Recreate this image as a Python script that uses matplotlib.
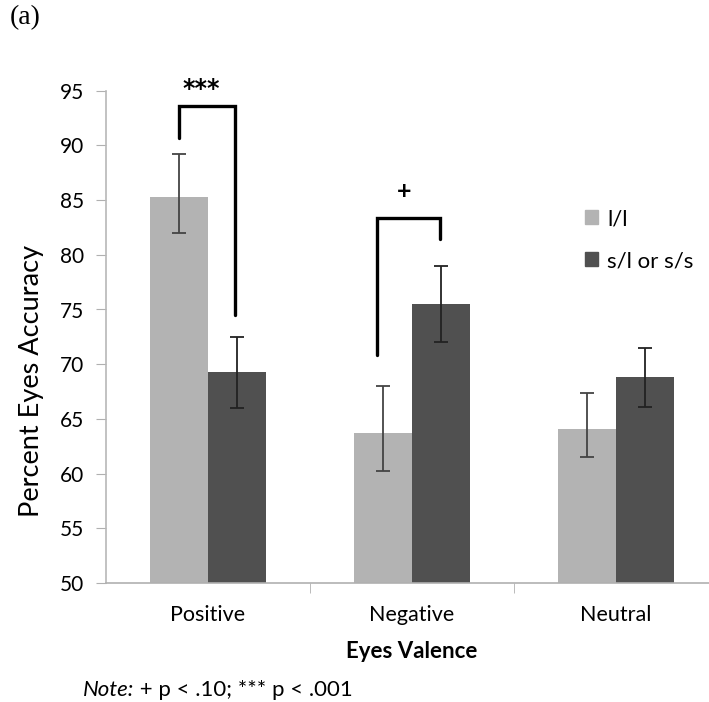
import numpy as np
import matplotlib.pyplot as plt
from matplotlib.patches import Patch

plt.rcParams['font.family'] = ['Lato', 'DejaVu Sans']

# 数据
categories = ['Positive', 'Negative', 'Neutral']
groups = ['l/l', 's/l or s/s']
ll_mean = [85.3, 63.7, 64.1]
ll_err_low = [3.3, 3.5, 2.6]
ll_err_high = [3.9, 4.3, 3.3]
sl_mean = [69.3, 75.5, 68.8]
sl_err_low = [3.3, 3.5, 2.7]
sl_err_high = [3.2, 3.5, 2.7]

# 显著性标记: (左x, 右x, 左端底, 右端底, 顶, 标记)
brackets = [(-0.144, 0.132, 90.7, 74.5, 93.6, '***'),
            (0.83, 1.139, 70.8, 81.4, 83.4, '+')]
yticks = np.arange(50, 96, 5)

W, H = 709, 702
fig = plt.figure(figsize=(W / 100, H / 100), dpi=100)
ax = fig.add_axes([106 / W, 119 / H, 612 / W, 492.3 / H])

x = np.arange(len(categories))
bw = 0.284
c_light = '#b3b3b3'
c_dark = '#505050'
ax.bar(x - bw / 2, ll_mean, bw, color=c_light, zorder=2)
ax.bar(x + bw / 2, sl_mean, bw, color=c_dark, zorder=2)
ax.errorbar(x - bw / 2, ll_mean, yerr=[ll_err_low, ll_err_high], fmt='none',
            ecolor='#444444', elinewidth=1.3, capsize=5, capthick=1.3, zorder=3)
ax.errorbar(x + bw / 2, sl_mean, yerr=[sl_err_low, sl_err_high], fmt='none',
            ecolor='#222222', elinewidth=1.3, capsize=5, capthick=1.3, zorder=3)

# 括号和星号
for x0, x1, b0, b1, top, mark in brackets:
    ax.plot([x0, x0, x1, x1], [b0, top, top, b1], color='black', lw=2.4,
            solid_joinstyle='miter', solid_capstyle='round', clip_on=False, zorder=4)
    if mark == '***':
        ax.text((x0 + x1) / 2 - 0.025, top + 1.6, mark, ha='center', va='center',
                fontsize=17, fontweight='bold', family='DejaVu Sans', clip_on=False)
    else:
        ax.text((x0 + x1) / 2 - 0.025, top + 2.4, mark, ha='center', va='center',
                fontsize=18, fontweight='bold', clip_on=False)

ax.set_xlim(-0.5, 2.5)
ax.set_ylim(50, 95)
ax.set_yticks(yticks)
ax.set_xticks(x)
ax.set_xticklabels(categories, fontsize=15.5)
ax.set_xticks([0.5, 1.5], minor=True)
ax.tick_params(axis='y', labelsize=15, length=7, color='#b0b0b0', pad=9)
ax.tick_params(axis='x', which='major', length=0, pad=16)
ax.tick_params(axis='x', which='minor', length=7, color='#b0b0b0')
for s in ['top', 'right']:
    ax.spines[s].set_visible(False)
ax.spines['left'].set_color('#b8b8b8')
ax.spines['bottom'].set_color('#b0b0b0')
ax.spines['left'].set_linewidth(1.2)
ax.spines['bottom'].set_linewidth(1.2)

ax.set_ylabel('Percent Eyes Accuracy', fontsize=19.5)
ax.yaxis.set_label_coords(-(106 - 44) / 612, 0.5 - (390 - 346) / 492.3)
ax.set_xlabel('Eyes Valence', fontsize=16, fontweight='bold', labelpad=11)

handles = [Patch(color=c_light, label=groups[0]), Patch(color=c_dark, label=groups[1])]
fig.legend(handles=handles, loc='upper left', bbox_to_anchor=(565 / W, 1 - 189 / H),
           frameon=False, fontsize=16, handlelength=0.6, handleheight=0.6,
           handletextpad=0.4, labelspacing=1.0)

fig.text(10 / W, 1 - 18 / H, '(a)', fontsize=20, family='Liberation Serif', va='center')
note = fig.text(83 / W, 1 - 690 / H, 'Note:', fontsize=16, style='italic', va='center')
ax.annotate(' + p < .10; *** p < .001', xy=(1, 0.5), xycoords=note, fontsize=16,
            va='center', ha='left', annotation_clip=False)

plt.savefig('out.png', dpi=100)
